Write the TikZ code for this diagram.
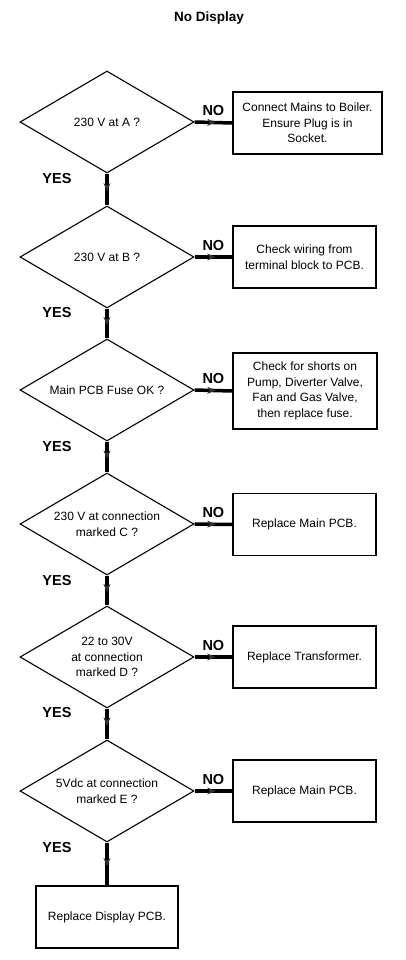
\documentclass[tikz,border=0pt]{standalone}
\usepackage{fontspec}
\setmainfont{Liberation Sans}
\usepackage{tikz}
\tikzstyle{decision} = [diamond, aspect=1.7, draw=black, line width=1.1pt, inner sep=0pt, minimum width=174pt, minimum height=102pt, align=center, font=\fontsize{12}{15.5}\selectfont]
\tikzstyle{action} = [rectangle, draw=black, line width=1.6pt, minimum width=143pt, minimum height=62pt, inner sep=2pt, align=center, font=\fontsize{12}{15.5}\selectfont]
\tikzstyle{answer} = [inner sep=0pt, font=\fontsize{14.5}{17}\selectfont\bfseries]
\tikzstyle{arrow} = [draw=black, line width=3.5pt, decoration={markings, mark=at position 0.55 with {\arrow[black!80]{Stealth[length=8pt,width=7pt,line width=0.4pt]}}}, postaction={decorate}]
\usetikzlibrary{arrows.meta, shapes.geometric, decorations.markings}

\begin{document}
\begin{tikzpicture}[x=1pt, y=-1pt]
          \useasboundingbox (0,0) rectangle (406,960);
          \node[font=\fontsize{13.5}{16}\selectfont\bfseries] (title) at (209,18) {No Display};

          \node[decision] (chkA) at (107,122) {230 V at A ?};
          \node[decision] (chkB) at (107,257) {230 V at B ?};
          \node[decision] (chkFuse) at (107,390) {Main PCB Fuse OK ?};
          \node[decision] (chkC) at (107,524) {230 V at connection\\marked C ?};
          \node[decision] (chkD) at (107,657) {22 to 30V\\at connection\\marked D ?};
          \node[decision] (chkE) at (107,791) {5Vdc at connection\\marked E ?};

          \node[action, minimum width=149pt] (fixA) at (307.5,123) {Connect Mains to Boiler.\\Ensure Plug is in\\Socket.};
          \node[action] (fixB) at (304.5,257) {Check wiring from\\terminal block to PCB.};
          \node[action, minimum width=144pt, minimum height=76pt] (fixFuse) at (305,391) {Check for shorts on\\Pump, Diverter Valve,\\Fan and Gas Valve,\\then replace fuse.};
          \node[action] (fixC) at (304.5,524.5) {Replace Main PCB.};
          \node[action] (fixD) at (304.5,657) {Replace Transformer.};
          \node[action] (fixE) at (304.5,791) {Replace Main PCB.};
          \node[action, minimum width=142pt] (display) at (107,917) {Replace Display PCB.};

          \node[answer] (yesA) at (57,179) {YES};
          \node[answer] (yesB) at (57,313) {YES};
          \node[answer] (yesFuse) at (57,447) {YES};
          \node[answer] (yesC) at (57,581) {YES};
          \node[answer] (yesD) at (57,712) {YES};
          \node[answer] (yesE) at (57,847) {YES};

          \draw[arrow](chkA.east) -- node[answer, above=5pt] (noA) {NO} (fixA.west);
          \draw[arrow](chkB.east) -- node[answer, above=5pt] (noB) {NO} (fixB.west);
          \draw[arrow](chkFuse.east) -- node[answer, above=5pt] (noFuse) {NO} (fixFuse.west);
          \draw[arrow](chkC.east) -- node[answer, above=5pt] (noC) {NO} (fixC.west);
          \draw[arrow](chkD.east) -- node[answer, above=5pt] (noD) {NO} (fixD.west);
          \draw[arrow](chkE.east) -- node[answer, above=5pt] (noE) {NO} (fixE.west);

          \draw[arrow](chkA) -- (chkB);
          \draw[arrow](chkB) -- (chkFuse);
          \draw[arrow](chkFuse) -- (chkC);
          \draw[arrow](chkC) -- (chkD);
          \draw[arrow](chkD) -- (chkE);
          \draw[arrow](chkE) -- (display);
        \end{tikzpicture}
\end{document}
